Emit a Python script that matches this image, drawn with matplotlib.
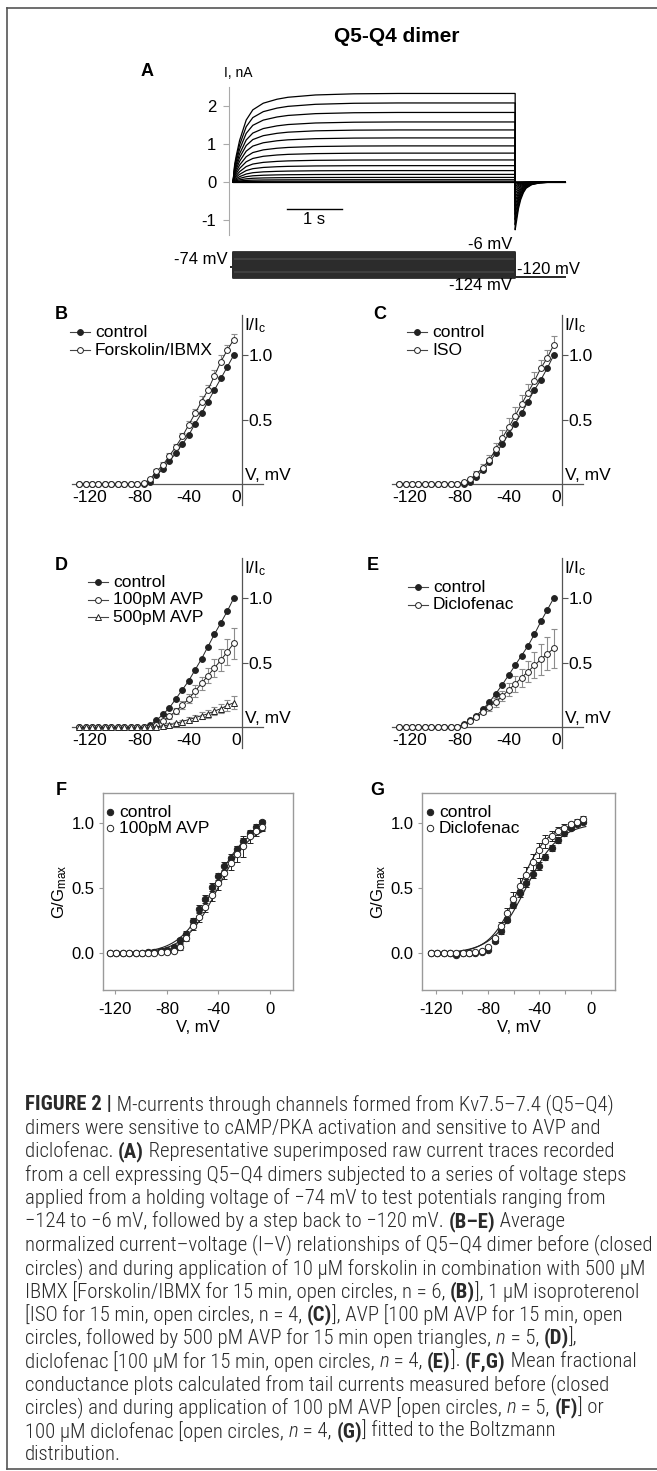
import numpy as np
import matplotlib
matplotlib.use('Agg')
import matplotlib.pyplot as plt
from matplotlib import font_manager

W, H = 657, 1471
plt.rcParams['font.family'] = ['Liberation Sans', 'DejaVu Sans']
plt.rcParams['mathtext.fontset'] = 'custom'
plt.rcParams['mathtext.rm'] = 'Liberation Sans'
plt.rcParams['mathtext.it'] = 'Liberation Sans:italic'

# ---------------- data ----------------
# A: raw current traces (nA), time in s
STEP_END = 5.13
RISE_T = [0, 0.03, 0.06, 0.12, 0.24, 0.36, 0.55, 0.8, 1.0, 1.5, 2.2, 3.0, 5.13]
RISE_FRAC = [0, 0.2, 0.3, 0.47, 0.70, 0.815, 0.89, 0.935, 0.957, 0.983, 0.996, 1.0, 1.0]
TAIL_T = [0, 0.01, 0.03, 0.06, 0.10, 0.15, 0.20, 0.30, 0.45, 0.60, 0.91]
TAIL_FRAC = [-0.54, -0.50, -0.42, -0.30, -0.20, -0.12, -0.07, -0.03, -0.01, -0.004, 0.0]
I_SS = [2.33, 2.08, 1.83, 1.58, 1.37, 1.16, 0.95, 0.76, 0.58, 0.43, 0.30, 0.20,
        0.12, 0.06, 0.02, 0.0, -0.01]
A_YTICKS = [-1, 0, 1, 2]

# test potentials (mV)
V = [-124.0, -119.1, -114.2, -109.3, -104.3, -99.4, -94.5, -89.6, -84.7, -79.8,
     -74.8, -69.9, -65.0, -60.1, -55.2, -50.3, -45.3, -40.4, -35.5, -30.6,
     -25.7, -20.8, -15.8, -10.9, -6.0]
V_HOLD = -74
V_TAIL = -120

# B
B_CTRL = [0, 0, 0, 0, 0, 0, 0, 0, 0, 0, 0.0, 0.02, 0.07, 0.12, 0.18, 0.24, 0.31,
          0.38, 0.47, 0.55, 0.64, 0.73, 0.82, 0.91, 1.0]
B_FSK = [0, 0, 0, 0, 0, 0, 0, 0, 0, 0, 0.01, 0.04, 0.10, 0.15, 0.22, 0.29, 0.37,
         0.46, 0.55, 0.64, 0.73, 0.84, 0.95, 1.04, 1.12]
B_FSK_ERR = [0, 0, 0, 0, 0, 0, 0, 0, 0, 0, 0.005, 0.01, 0.015, 0.02, 0.02, 0.025,
             0.03, 0.03, 0.035, 0.04, 0.04, 0.045, 0.05, 0.04, 0.045]
# C
C_CTRL = [0, 0, 0, 0, 0, 0, 0, 0, 0, 0, 0.0, 0.02, 0.06, 0.11, 0.17, 0.24, 0.31,
          0.39, 0.47, 0.55, 0.64, 0.73, 0.81, 0.90, 1.0]
C_ISO = [0, 0, 0, 0, 0, 0, 0, 0, 0, 0, 0.02, 0.04, 0.08, 0.13, 0.19, 0.27, 0.36,
         0.44, 0.53, 0.62, 0.71, 0.80, 0.90, 0.98, 1.08]
C_ISO_ERR = [0, 0, 0, 0, 0, 0, 0, 0, 0, 0, 0.005, 0.01, 0.02, 0.03, 0.04, 0.05,
             0.06, 0.07, 0.07, 0.07, 0.07, 0.07, 0.06, 0.06, 0.07]
# D
D_CTRL = [0, 0, 0, 0, 0, 0, 0, 0, 0, 0, 0.005, 0.02, 0.055, 0.10, 0.15, 0.22, 0.29,
          0.36, 0.445, 0.53, 0.625, 0.72, 0.81, 0.90, 1.0]
D_AVP100 = [0, 0, 0, 0, 0, 0, 0, 0, 0, 0, 0.0, 0.005, 0.02, 0.05, 0.085, 0.125, 0.17,
            0.22, 0.28, 0.34, 0.40, 0.46, 0.52, 0.585, 0.65]
D_AVP100_ERR = [0, 0, 0, 0, 0, 0, 0, 0, 0, 0, 0.0, 0.005, 0.01, 0.015, 0.02, 0.025,
                0.03, 0.035, 0.045, 0.05, 0.06, 0.07, 0.085, 0.10, 0.12]
D_AVP500 = [0, 0, 0, 0, 0, 0, 0, 0, 0, 0, 0.0, 0.0, 0.005, 0.01, 0.02, 0.03, 0.045,
            0.06, 0.075, 0.09, 0.105, 0.125, 0.145, 0.17, 0.19]
D_AVP500_ERR = [0, 0, 0, 0, 0, 0, 0, 0, 0, 0, 0, 0, 0.005, 0.005, 0.01, 0.01, 0.015,
                0.02, 0.02, 0.025, 0.03, 0.03, 0.035, 0.04, 0.05]
# E
E_CTRL = [0, 0, 0, 0, 0, 0, 0, 0, 0, 0.005, 0.025, 0.055, 0.09, 0.14, 0.195, 0.26,
          0.33, 0.405, 0.48, 0.555, 0.63, 0.72, 0.82, 0.91, 1.0]
E_DIC = [0, 0, 0, 0, 0, 0, 0, 0, 0, 0.0, 0.02, 0.05, 0.08, 0.12, 0.16, 0.195, 0.24,
         0.29, 0.335, 0.385, 0.43, 0.48, 0.525, 0.57, 0.61]
E_DIC_ERR = [0, 0, 0, 0, 0, 0, 0, 0, 0, 0, 0.005, 0.01, 0.015, 0.02, 0.03, 0.035,
             0.04, 0.05, 0.06, 0.07, 0.08, 0.10, 0.12, 0.13, 0.15]
# F
F_CTRL = [0.0, 0.0, 0.0, 0.0, 0.0, 0.0, 0.01, 0.01, 0.02, 0.03, 0.05, 0.10, 0.15,
          0.25, 0.34, 0.42, 0.51, 0.59, 0.67, 0.73, 0.80, 0.86, 0.92, 0.97, 1.01]
F_CTRL_ERR = [0, 0, 0, 0, 0, 0, 0.005, 0.005, 0.01, 0.01, 0.015, 0.02, 0.02, 0.025,
              0.03, 0.03, 0.03, 0.03, 0.03, 0.03, 0.025, 0.025, 0.02, 0.02, 0.015]
F_AVP = [0.0, 0.0, 0.0, 0.0, 0.0, 0.0, 0.0, 0.0, 0.01, 0.01, 0.02, 0.05, 0.12, 0.21,
         0.28, 0.36, 0.45, 0.54, 0.62, 0.69, 0.76, 0.82, 0.90, 0.94, 0.97]
F_AVP_ERR = [0, 0, 0, 0, 0, 0, 0, 0, 0.005, 0.01, 0.01, 0.02, 0.025, 0.03, 0.035,
             0.04, 0.045, 0.05, 0.05, 0.05, 0.06, 0.08, 0.05, 0.04, 0.03]
F_FIT_CTRL = (-44.0, 13.0)   # V1/2, slope
F_FIT_AVP = (-40.5, 13.0)
# G
G_CTRL = [0.0, 0.0, 0.0, 0.0, -0.01, 0.0, 0.0, 0.0, 0.01, 0.03, 0.095, 0.17, 0.26,
          0.37, 0.46, 0.54, 0.61, 0.67, 0.74, 0.81, 0.87, 0.92, 0.96, 0.99, 1.01]
G_CTRL_ERR = [0, 0, 0, 0, 0, 0, 0, 0, 0.005, 0.01, 0.015, 0.02, 0.02, 0.025, 0.03,
              0.03, 0.03, 0.03, 0.025, 0.025, 0.02, 0.02, 0.015, 0.015, 0.01]
G_DIC = [0.0, 0.0, 0.0, 0.0, 0.0, 0.0, 0.0, 0.01, 0.02, 0.05, 0.115, 0.21, 0.31,
         0.42, 0.52, 0.60, 0.70, 0.79, 0.86, 0.90, 0.94, 0.96, 0.99, 1.01, 1.03]
G_DIC_ERR = [0, 0, 0, 0, 0, 0, 0, 0, 0.01, 0.01, 0.02, 0.03, 0.04, 0.05, 0.06,
             0.065, 0.06, 0.06, 0.05, 0.04, 0.03, 0.03, 0.02, 0.02, 0.02]
G_FIT_CTRL = (-50.5, 13.0)
G_FIT_DIC = (-56.0, 11.0)

IV_XTICKS = [-120, -80, -40, 0]

CAPTION = [
    [("FIGURE 2 |", 'b'), (" M-currents through channels formed from Kv7.5–7.4 (Q5–Q4)", 'r')],
    [("dimers were sensitive to cAMP/PKA activation and sensitive to AVP and", 'r')],
    [("diclofenac. ", 'r'), ("(A)", 'b'), (" Representative superimposed raw current traces recorded", 'r')],
    [("from a cell expressing Q5–Q4 dimers subjected to a series of voltage steps", 'r')],
    [("applied from a holding voltage of −74 mV to test potentials ranging from", 'r')],
    [("−124 to −6 mV, followed by a step back to −120 mV. ", 'r'), ("(B–E)", 'b'), (" Average", 'r')],
    [("normalized current–voltage (I–V) relationships of Q5–Q4 dimer before (closed", 'r')],
    [("circles) and during application of 10 μM forskolin in combination with 500 μM", 'r')],
    [("IBMX [Forskolin/IBMX for 15 min, open circles, n = 6, ", 'r'), ("(B)", 'b'),
     ("], 1 μM isoproterenol", 'r')],
    [("[ISO for 15 min, open circles, n = 4, ", 'r'), ("(C)", 'b'),
     ("], AVP [100 pM AVP for 15 min, open", 'r')],
    [("circles, followed by 500 pM AVP for 15 min open triangles, ", 'r'), ("n", 'i'),
     (" = 5, ", 'r'), ("(D)", 'b'), ("],", 'r')],
    [("diclofenac [100 μM for 15 min, open circles, ", 'r'), ("n", 'i'), (" = 4, ", 'r'),
     ("(E)", 'b'), ("]. ", 'r'), ("(F,G)", 'b'), (" Mean fractional", 'r')],
    [("conductance plots calculated from tail currents measured before (closed", 'r')],
    [("circles) and during application of 100 pM AVP [open circles, ", 'r'), ("n", 'i'),
     (" = 5, ", 'r'), ("(F)", 'b'), ("] or", 'r')],
    [("100 μM diclofenac [open circles, ", 'r'), ("n", 'i'), (" = 4, ", 'r'), ("(G)", 'b'),
     ("] fitted to the Boltzmann", 'r')],
    [("distribution.", 'r')],
]

# ---------------- figure ----------------
AXC = '#555555'
LC = '#222222'
fig = plt.figure(figsize=(W / 100, H / 100), dpi=100)


def add_ax(l, t, r, b):
    return fig.add_axes([l / W, 1 - b / H, (r - l) / W, (b - t) / H])


# ----- A: traces -----
axA = add_ax(229, 87, 570, 235)
axA.set_xlim(-0.073, 6.127)
axA.set_ylim(-1.395, 2.5)
for s in ['top', 'right', 'bottom']:
    axA.spines[s].set_visible(False)
axA.spines['left'].set_color('#aaaaaa')
axA.set_xticks([])
axA.set_yticks(A_YTICKS)
axA.set_yticklabels([str(v) for v in A_YTICKS])
axA.tick_params(axis='y', length=4, width=0.8, color='#aaaaaa', labelsize=12, pad=5)
axA.patch.set_alpha(0)
for iss in I_SS:
    t = RISE_T + [STEP_END + x for x in TAIL_T]
    y = [iss * f for f in RISE_FRAC] + [iss * f for f in TAIL_FRAC]
    axA.plot(t, y, color='black', lw=0.9)
axA.plot([0.98, 1.98], [-0.71, -0.71], color='black', lw=1)
axA.text(1.48, -0.78, '1 s', ha='center', va='top', fontsize=12)

# ----- A: voltage protocol -----
axP = add_ax(229, 235, 570, 300)
axP.set_xlim(-0.073, 6.127)
axP.set_ylim(-224, 71)
axP.axis('off')
for v in V:
    axP.plot([-0.04, 0, 0, STEP_END, STEP_END, 6.04],
             [V_HOLD, V_HOLD, v, v, V_TAIL, V_TAIL], color='#2b2b2b', lw=1.3)
axP.text(-0.09, V_HOLD, '-74 mV', ha='right', va='bottom', fontsize=12)
axP.text(5.08, V[-1], '-6 mV', ha='right', va='bottom', fontsize=12)
axP.text(5.08, V[0], '-124 mV', ha='right', va='top', fontsize=12)
axP.text(5.17, V_TAIL, '-120 mV', ha='left', va='bottom', fontsize=12)


# ----- B-E: I-V -----
def iv_panel(box, series):
    ax = add_ax(*box)
    ax.set_xlim(-129.5, 16.3)
    ax.set_ylim(-0.16, 1.31)
    ax.patch.set_alpha(0)
    for s in ['left', 'top']:
        ax.spines[s].set_visible(False)
    ax.spines['right'].set_position(('data', 0))
    ax.spines['bottom'].set_position(('data', 0))
    for s in ['right', 'bottom']:
        ax.spines[s].set_color(AXC)
        ax.spines[s].set_linewidth(0.9)
    ax.yaxis.set_ticks_position('right')
    ax.set_yticks([0.5, 1.0])
    ax.set_yticklabels(['0.5', '1.0'])
    ax.tick_params(axis='y', direction='out', length=4, width=0.8, color=AXC,
                   labelsize=12.5, pad=1)
    ax.set_xticks([])
    for val, dx in zip(IV_XTICKS, [5, 3, 0, -5]):
        ax.annotate(str(val), xy=(val, 0), xytext=(dx, -6), textcoords='offset pixels',
                    ha='center', va='top', fontsize=12.5)
    ax.annotate('V, mV', xy=(0, 0), xytext=(3, 1), textcoords='offset pixels',
                ha='left', va='bottom', fontsize=12.5)
    ax.annotate(r'I/I$_\mathregular{c}$', xy=(0, 1.31), xytext=(2, -1),
                textcoords='offset pixels', ha='left', va='top', fontsize=12.5)
    for y, err, mk, filled, mode in series:
        y = np.array(y)
        if err is not None:
            err = np.array(err)
            m = err > 0
            vv = np.array(V)[m]
            lo = np.zeros(m.sum()) if mode == 'up' else err[m]
            ax.errorbar(vv, y[m], yerr=[lo, err[m]], fmt='none', ecolor='#8c8c8c',
                        elinewidth=0.8, capsize=2.5, capthick=0.8, zorder=2)
        ax.plot(V, y, '-', color=LC, lw=0.7, marker=mk, ms=4.2 if mk == 'o' else 4.5,
                mfc=LC if filled else 'white', mec=LC, mew=0.7, zorder=3)
    return ax


iv_panel((72, 315, 263, 505), [(B_CTRL, None, 'o', True, 'up'),
                               (B_FSK, B_FSK_ERR, 'o', False, 'up')])
iv_panel((392, 315, 583, 505), [(C_CTRL, None, 'o', True, 'up'),
                                (C_ISO, C_ISO_ERR, 'o', False, 'up')])
iv_panel((72, 558, 263, 748), [(D_CTRL, None, 'o', True, 'both'),
                               (D_AVP100, D_AVP100_ERR, 'o', False, 'both'),
                               (D_AVP500, D_AVP500_ERR, '^', False, 'both')])
iv_panel((392, 558, 583, 748), [(E_CTRL, None, 'o', True, 'both'),
                                (E_DIC, E_DIC_ERR, 'o', False, 'both')])


# ----- F, G: conductance -----
def gv_panel(box, xlim, series, fits, minor):
    ax = add_ax(*box)
    ax.set_xlim(*xlim)
    ax.set_ylim(-0.28, 1.23)
    for sp in ax.spines.values():
        sp.set_color('#9a9a9a')
        sp.set_linewidth(1)
    ax.set_xticks(IV_XTICKS)
    ax.set_xticklabels([str(v) for v in IV_XTICKS])
    ax.set_yticks([0, 0.5, 1.0])
    ax.set_yticklabels(['0.0', '0.5', '1.0'])
    ax.tick_params(direction='out', length=3, width=0.8, color='#9a9a9a',
                   labelsize=12, pad=3)
    ax.tick_params(axis='x', pad=6)
    if minor:
        ax.set_xticks([-100, -60, -20], minor=True)
        ax.tick_params(which='minor', direction='out', length=3, width=0.8, color='#9a9a9a')
    ax.set_xlabel('V, mV', fontsize=12, labelpad=2)
    ax.set_ylabel(r'G/G$_\mathregular{max}$', fontsize=12, labelpad=2)
    vv = np.linspace(-125, -4, 200)
    for vh, k in fits:
        ax.plot(vv, 1 / (1 + np.exp((vh - vv) / k)), color=LC, lw=0.8, zorder=2)
    for y, err, filled in series:
        y = np.array(y)
        err = np.array(err)
        m = err > 0
        ax.errorbar(np.array(V)[m], y[m], yerr=err[m], fmt='none', ecolor=LC,
                    elinewidth=0.7, capsize=2.5, capthick=0.7, zorder=3)
        ax.plot(V, y, 'o', ms=4.6, mfc=LC if filled else 'white', mec=LC, mew=0.7,
                zorder=4)
    return ax


gv_panel((103, 793, 293, 990), (-129.5, 17.8),
         [(F_CTRL, F_CTRL_ERR, True), (F_AVP, F_AVP_ERR, False)],
         [F_FIT_CTRL, F_FIT_AVP], False)
gv_panel((422, 793, 615, 990), (-131.0, 18.6),
         [(G_CTRL, G_CTRL_ERR, True), (G_DIC, G_DIC_ERR, False)],
         [G_FIT_CTRL, G_FIT_DIC], True)

# ----- overlay: labels, legends, caption, border -----
ov = fig.add_axes([0, 0, 1, 1])
ov.set_xlim(0, W)
ov.set_ylim(H, 0)
ov.axis('off')

ov.text(397, 36, 'Q5-Q4 dimer', ha='center', va='center', fontsize=15, fontweight='bold')
ov.text(224, 73, 'I, nA', ha='left', va='center', fontsize=10)
for lab, x, y in [('A', 147, 71), ('B', 61, 314), ('C', 380, 314), ('D', 61, 565),
                  ('E', 373, 565), ('F', 61, 790), ('G', 377, 790)]:
    ov.text(x, y, lab, ha='center', va='center', fontsize=13, fontweight='bold')


def iv_legend(x0, y0, dy, entries):
    for i, (lab, mk, filled) in enumerate(entries):
        y = y0 + i * dy
        ov.plot([x0, x0 + 20], [y, y], color='#444444', lw=0.8)
        ov.plot([x0 + 10], [y], marker=mk, ms=4.2 if mk == 'o' else 4.5,
                mfc=LC if filled else 'white', mec=LC, mew=0.7)
        ov.text(x0 + 25, y, lab, ha='left', va='center', fontsize=12.5)


iv_legend(70, 332, 18, [('control', 'o', True), ('Forskolin/IBMX', 'o', False)])
iv_legend(407, 332, 18, [('control', 'o', True), ('ISO', 'o', False)])
iv_legend(88, 582, 17.5, [('control', 'o', True), ('100pM AVP', 'o', False),
                          ('500pM AVP', '^', False)])
iv_legend(408, 587, 17.5, [('control', 'o', True), ('Diclofenac', 'o', False)])


def gv_legend(x0, y0, entries):
    for i, (lab, filled) in enumerate(entries):
        y = y0 + i * 16
        ov.plot([x0], [y], 'o', ms=4.6, mfc=LC if filled else 'white', mec=LC, mew=0.7)
        ov.text(x0 + 9, y, lab, ha='left', va='center', fontsize=12.5)


gv_legend(110, 812, [('control', True), ('100pM AVP', False)])
gv_legend(430, 812, [('control', True), ('Diclofenac', False)])

# border
for xs, ys in [([7, W], [8, 8]), ([7, 7], [8, 1469]), ([7, W], [1469, 1469])]:
    ov.plot(xs, ys, color='#555555', lw=1.2, clip_on=False)


# caption
def pick_family(names):
    for n in names:
        try:
            font_manager.findfont(font_manager.FontProperties(family=n),
                                  fallback_to_default=False)
            return n
        except Exception:
            pass
    return 'DejaVu Sans'


CAP_FAM = [pick_family(['Liberation Sans Narrow', 'Roboto Condensed', 'Liberation Sans']),
           'DejaVu Sans']
renderer = fig.canvas.get_renderer()


def seg_kw(style, size):
    return dict(fontsize=size, family=CAP_FAM,
                fontweight='bold' if style == 'b' else 'light',
                fontstyle='italic' if style == 'i' else 'normal')


def text_w(s, kw):
    t = ov.text(0, 0, 'x' + s + 'x', **kw)
    w1 = t.get_window_extent(renderer).width
    t.remove()
    t = ov.text(0, 0, 'xx', **kw)
    w2 = t.get_window_extent(renderer).width
    t.remove()
    return w1 - w2


# size the caption so that its widest line fits the page
w_max = max(sum(text_w(s, seg_kw(st, 10)) for s, st in line) for line in CAPTION)
cap_size = 10 * 628 / w_max

for i, line in enumerate(CAPTION):
    x = 25
    y = 1105 + i * 23.3
    for s, st in line:
        kw = seg_kw(st, cap_size)
        ov.text(x, y, s, ha='left', va='center', color='#2a2a2a', **kw)
        x += text_w(s, kw)

fig.savefig('out.png', dpi=100)
